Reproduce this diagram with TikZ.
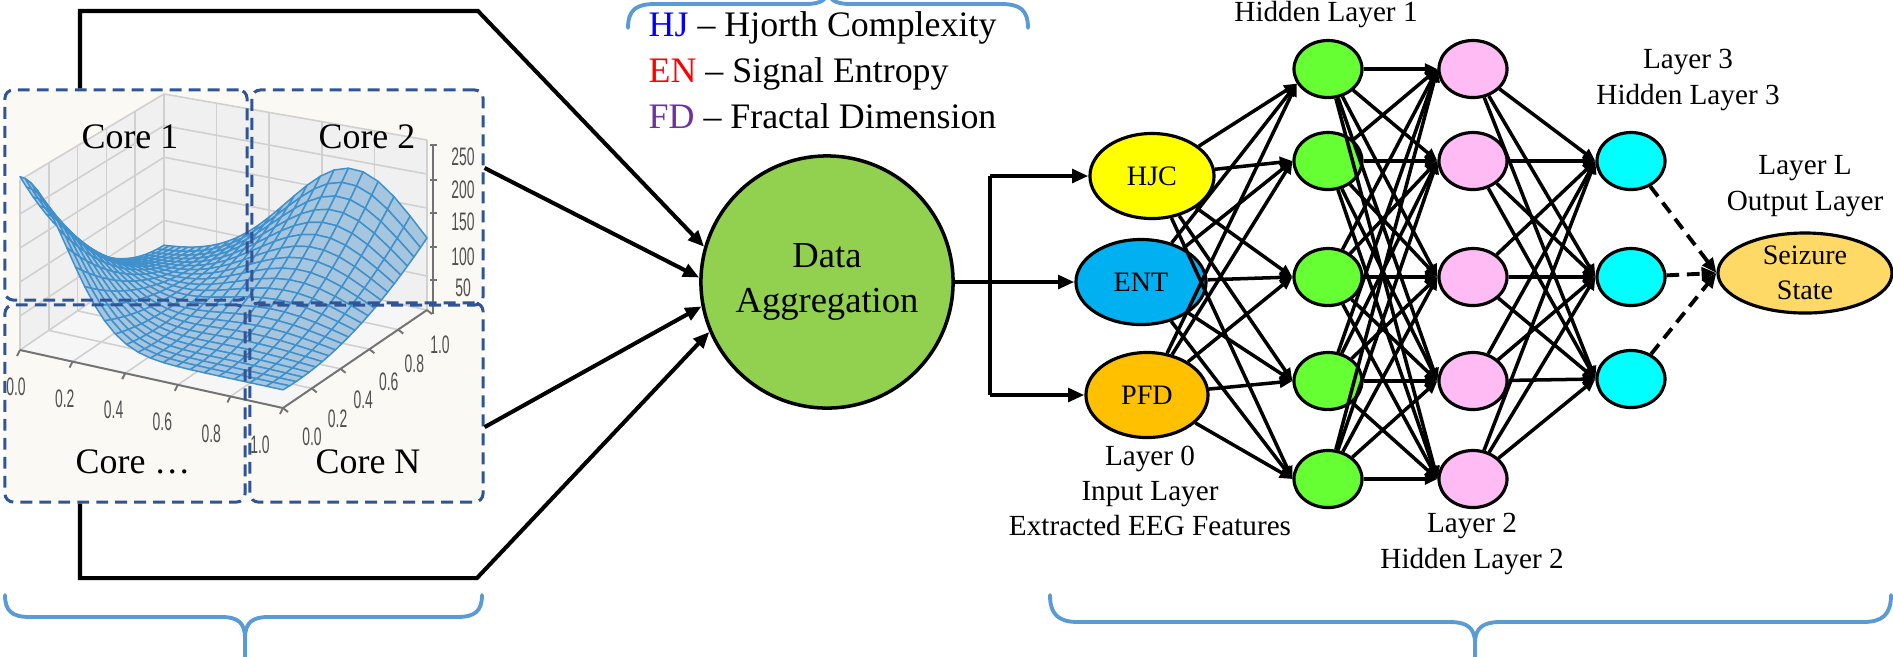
\documentclass[tikz,border=0pt]{standalone}
\usepackage{fontspec}
\setmainfont{Liberation Serif}
\setsansfont{Liberation Sans}
\usetikzlibrary{arrows.meta,calc,shapes.geometric}

\definecolor{panelbg}{HTML}{FBF9F3}
\definecolor{coreblue}{HTML}{2F5597}
\definecolor{bracecol}{HTML}{5B9BD5}
\definecolor{aggfill}{HTML}{92D050}
\definecolor{hjcfill}{HTML}{FFFF00}
\definecolor{entfill}{HTML}{00B0F0}
\definecolor{pfdfill}{HTML}{FFC000}
\definecolor{hidA}{HTML}{66FF33}
\definecolor{hidB}{HTML}{FFBBF4}
\definecolor{hidC}{HTML}{00FFFF}
\definecolor{outfill}{HTML}{FFD966}
\definecolor{legHJ}{HTML}{0000FF}
\definecolor{legEN}{HTML}{FF0000}
\definecolor{legFD}{HTML}{7030A0}
\definecolor{meshfill}{HTML}{A6C5DF}
\definecolor{meshline}{HTML}{3F90CB}
\definecolor{panefill}{HTML}{F0F0F0}
\definecolor{gridcol}{HTML}{D0D0D0}
\definecolor{tickcol}{HTML}{505050}

\begin{document}
\begin{tikzpicture}[x=0.01cm,y=-0.01cm,
  declare function={
    surfz(\sa,\sb)=0.03+0.07*(1-\sb)+0.92*exp(-\sa*\sa/0.0625)*(1-\sb)*(1-\sb)
      +0.72*exp(-(\sa-0.72)*(\sa-0.72)/0.13)*\sb*\sb;
    zsc(\sa,\sb)=158+12*\sa+12*(1-\sb);
    scrx(\sa,\sb)=20+263*\sa+144*\sb;
    scry(\sa,\sb,\sc)=350+58*\sa-98*\sb-zsc(\sa,\sb)*\sc;
  },
  corebox/.style={draw=coreblue, line width=0.85pt, dash pattern=on 3.4pt off 2pt,
    rounded corners=2.4pt, inner sep=0pt},
  corelabel/.style={font=\fontsize{10.2}{12}\selectfont, inner sep=0pt},
  gridl/.style={draw=gridcol, line width=0.45pt},
  axisl/.style={draw=tickcol!80, line width=0.55pt},
  ticklab/.style={font=\sffamily\fontsize{7.2}{8}\selectfont, text=tickcol, inner sep=0pt},
  meshquad/.style={fill=meshfill, draw=meshline, line width=0.42pt, line join=round},
  feed/.style={line width=1.15pt, -{Triangle[length=4.6pt,width=3.8pt]}},
  feedline/.style={line width=1.15pt},
  link/.style={line width=1pt, -{Triangle[length=3.6pt,width=3.1pt]}},
  dlink/.style={line width=1.1pt, dash pattern=on 3.6pt off 2.2pt, -{Triangle[length=4.2pt,width=3.6pt]}},
  neuron/.style={ellipse, draw=black, line width=0.9pt, inner sep=0pt,
    minimum width=0.68cm, minimum height=0.57cm},
  inputnode/.style={ellipse, draw=black, line width=0.9pt, inner sep=0pt,
    minimum height=0.85cm, font=\fontsize{8}{10}\selectfont},
  laylab/.style={font=\fontsize{8.3}{10}\selectfont, align=center, inner sep=0pt},
  brace/.style={draw=bracecol, line width=1.1pt, line cap=round},
]
\useasboundingbox (0,0) rectangle (1893,656);

% ---------------- surface plot panel ----------------
\fill[panelbg, rounded corners=2pt] (5,90) rectangle (483,502);

% panes
\fill[panefill] ({scrx(0,0)},{scry(0,0,0)}) -- ({scrx(0,1)},{scry(0,1,0)})
  -- ({scrx(0,1)},{scry(0,1,1)}) -- ({scrx(0,0)},{scry(0,0,1)}) -- cycle;
\fill[panefill] ({scrx(0,1)},{scry(0,1,0)}) -- ({scrx(1,1)},{scry(1,1,0)})
  -- ({scrx(1,1)},{scry(1,1,1)}) -- ({scrx(0,1)},{scry(0,1,1)}) -- cycle;
\fill[panefill!60!white] ({scrx(0,0)},{scry(0,0,0)}) -- ({scrx(1,0)},{scry(1,0,0)})
  -- ({scrx(1,1)},{scry(1,1,0)}) -- ({scrx(0,1)},{scry(0,1,0)}) -- cycle;

% grid lines on the panes
\foreach \t in {0,0.2,0.4,0.6,0.8,1}{
  \draw[gridl] ({scrx(0,\t)},{scry(0,\t,0)}) -- ({scrx(0,\t)},{scry(0,\t,1)});
  \draw[gridl] ({scrx(\t,1)},{scry(\t,1,0)}) -- ({scrx(\t,1)},{scry(\t,1,1)});
  \draw[gridl] ({scrx(\t,0)},{scry(\t,0,0)}) -- ({scrx(\t,1)},{scry(\t,1,0)});
  \draw[gridl] ({scrx(0,\t)},{scry(0,\t,0)}) -- ({scrx(1,\t)},{scry(1,\t,0)});
}
\foreach \t in {0.2,0.4,0.6,0.8,1}{
  \draw[gridl] ({scrx(0,0)},{scry(0,0,\t)}) -- ({scrx(0,1)},{scry(0,1,\t)})
    -- ({scrx(1,1)},{scry(1,1,\t)});
}

% axes
\draw[axisl] ({scrx(0,0)},{scry(0,0,0)}) -- ({scrx(1,0)},{scry(1,0,0)})
  -- ({scrx(1,1)},{scry(1,1,0)});
\draw[axisl] (433,314) -- (433,145);
\foreach \t in {0,0.2,0.4,0.6,0.8,1}{
  \draw[axisl] ({scrx(\t,0)},{scry(\t,0,0)}) -- ++(-3,6);
  \draw[axisl] ({scrx(1,\t)},{scry(1,\t,0)}) -- ++(5,4);
}
\foreach \yy in {280,247,213,180,145}{
  \draw[axisl] (430,\yy) -- (437,\yy);
}
\foreach \t/\l in {0/0.0,0.2/0.2,0.4/0.4,0.6/0.6,0.8/0.8,1/1.0}{
  \node[ticklab] at ({scrx(\t,0)-4-19*\t},{scry(\t,0,0)+37}) {\scalebox{0.55}[1]{\l}};
  \node[ticklab] at ({scrx(1,\t)+29-16*\t},{scry(1,\t,0)+29+6*\t}) {\scalebox{0.55}[1]{\l}};
}
\foreach \yy/\l in {157/250,190/200,222/150,257/100,288/50}{
  \node[ticklab] at (463,\yy) {\scalebox{0.55}[1]{\l}};
}

% surface mesh: vertices (denser towards the steep left face), then quads back to front
\foreach \i in {0,...,24}{
  \foreach \j in {0,...,22}{
    \pgfmathsetmacro\uu{(\i/24)*(0.45+0.55*\i/24)}
    \pgfmathsetmacro\vv{\j/22}
    \pgfmathsetmacro\ww{surfz(\uu,\vv)}
    \pgfmathsetmacro\px{scrx(\uu,\vv)}
    \pgfmathsetmacro\py{scry(\uu,\vv,\ww)}
    \coordinate (v-\i-\j) at (\px,\py);
  }
}
\foreach \s in {-21,...,23}{
  \foreach \i in {0,...,23}{
    \pgfmathtruncatemacro\j{\i-\s}
    \ifnum\j<0 \else\ifnum\j>21 \else
      \pgfmathtruncatemacro\ii{\i+1}
      \pgfmathtruncatemacro\jj{\j+1}
      \filldraw[meshquad] (v-\i-\j) -- (v-\ii-\j) -- (v-\ii-\jj) -- (v-\i-\jj) -- cycle;
    \fi\fi
  }
}

% core partitions
\node[corebox, minimum width=2.42cm, minimum height=2.10cm] (c1) at (126,195) {};
\node[corebox, minimum width=2.31cm, minimum height=2.15cm] (c2) at (367.5,197.5) {};
\node[corebox, minimum width=2.40cm, minimum height=1.97cm] (c3) at (125,403.5) {};
\node[corebox, minimum width=2.33cm, minimum height=1.99cm] (cN) at (366.5,402.5) {};
\node[corelabel] (l1) at (130,137) {Core 1};
\node[corelabel] (l2) at (367,137) {Core 2};
\node[corelabel] (l3) at (133,462) {Core \dots};
\node[corelabel] (lN) at (368,462) {Core N};

% ---------------- aggregation ----------------
\node[circle, draw=black, line width=1pt, fill=aggfill, minimum size=2.52cm, inner sep=0pt,
  align=center, font=\fontsize{10.4}{13}\selectfont] (agg) at (827,282) {Data\\Aggregation};

\coordinate (tl) at (80,11);
\coordinate (tr) at (478,11);
\coordinate (bl) at (80,578);
\coordinate (br) at (477,578);
\draw[feed] (c1.north -| tl) -- (tl) -- (tr) -- (agg.164);
\draw[feed] ([yshift=8.4pt]c2.east) -- (agg.178);
\draw[feed] ([yshift=-7pt]cN.east) -- (agg.191);
\draw[feed] (c3.south -| bl) -- (bl) -- (br) -- (agg.203);

% legend
\node[anchor=west, align=left, inner sep=0pt, font=\fontsize{10.2}{13}\selectfont] (legend) at (648,70)
  {\textcolor{legHJ}{HJ} -- Hjorth Complexity\\
   \textcolor{legEN}{EN} -- Signal Entropy\\
   \textcolor{legFD}{FD} -- Fractal Dimension};

% ---------------- network ----------------
\node[inputnode, fill=hjcfill, minimum width=1.24cm] (hjc) at (1152,176) {HJC};
\node[inputnode, fill=entfill, minimum width=1.30cm] (ent) at (1141,282) {ENT};
\node[inputnode, fill=pfdfill, minimum width=1.22cm] (pfd) at (1147,395) {PFD};

\foreach \k/\yy in {1/69,2/161,3/277,4/381,5/479}{
  \node[neuron, fill=hidA] (h1-\k) at (1328,\yy) {};
  \node[neuron, fill=hidB] (h2-\k) at (1473,\yy) {};
}
\foreach \k/\yy in {1/161,2/277,3/379}{
  \node[neuron, fill=hidC] (h3-\k) at (1631,\yy) {};
}
\node[ellipse, draw=black, line width=0.9pt, fill=outfill, inner sep=0pt,
  minimum width=1.74cm, minimum height=0.80cm, align=center,
  font=\fontsize{8}{10}\selectfont] (seiz) at (1805,273) {Seizure\\State};

% bus from the aggregation node to the input layer
\coordinate (busT) at (990,176);
\coordinate (busB) at (990,395);
\draw[feedline] (agg.east) -- (agg.east -| busT);
\draw[feedline] (busT) -- (busB);
\draw[feed] (busT) -- (hjc.west);
\draw[feed] (agg.east -| busT) -- (ent.west);
\draw[feed] (busB) -- (pfd.west);

% full connections, converging on the left side of each target
\foreach \a in {hjc,ent,pfd}{
  \draw[link] (\a) -- (h1-1.205);
  \foreach \b in {2,...,5}{ \draw[link] (\a) -- (h1-\b.west); }
}
\foreach \a in {1,...,5}{
  \foreach \b in {1,...,5}{ \draw[link] (h1-\a) -- (h2-\b.west); }
}
\foreach \a in {1,...,5}{
  \foreach \b in {1,2,3}{ \draw[link] (h2-\a) -- (h3-\b.west); }
}
\foreach \a in {1,2,3}{ \draw[dlink] (h3-\a) -- (seiz.west); }

% layer captions
\node[laylab, anchor=base] (lab1) at (1326,21) {Hidden Layer 1};
\node[laylab] (lab0) at (1150,491) {Layer 0\\Input Layer\\Extracted EEG Features};
\node[laylab] (lab2) at (1472,544) {Layer 2\\Hidden Layer 2};
\node[laylab] (lab3) at (1688,80) {Layer 3\\Hidden Layer 3};
\node[laylab] (labL) at (1805,186) {Layer L\\Output Layer};

% ---------------- braces ----------------
\draw[brace] (628,28) .. controls (628,10) and (636,4) .. (655,4) -- (805,4)
  .. controls (821,4) and (828,0) .. (828,-12);
\draw[brace] (1028,28) .. controls (1028,10) and (1020,4) .. (1001,4) -- (851,4)
  .. controls (835,4) and (828,0) .. (828,-12);

\draw[brace] (5,595) .. controls (5,611) and (12,617) .. (30,617) -- (222,617)
  .. controls (238,617) and (245,623) .. (245,638) -- (245,670);
\draw[brace] (482,595) .. controls (482,611) and (475,617) .. (457,617) -- (268,617)
  .. controls (252,617) and (245,623) .. (245,638);

\draw[brace] (1050,595) .. controls (1050,614) and (1058,622) .. (1078,622) -- (1450,622)
  .. controls (1467,622) and (1475,628) .. (1475,643) -- (1475,670);
\draw[brace] (1891,595) .. controls (1891,614) and (1883,622) .. (1863,622) -- (1500,622)
  .. controls (1483,622) and (1475,628) .. (1475,643);
\end{tikzpicture}
\end{document}
